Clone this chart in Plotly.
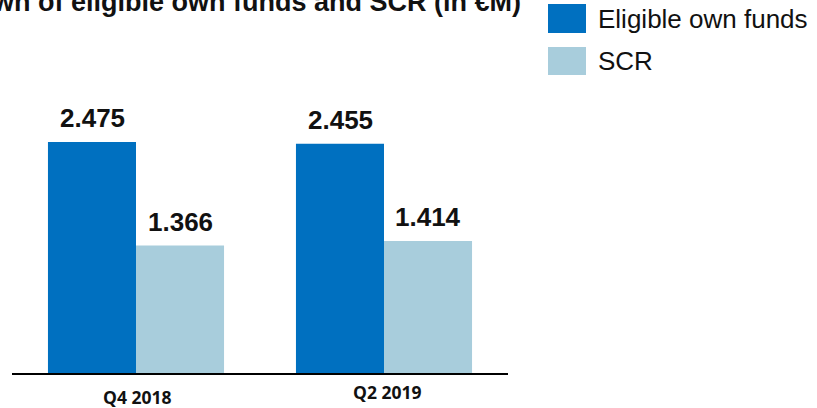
import plotly.graph_objects as go

# Data (values in €M)
categories = ["Q4 2018", "Q2 2019"]
eligible_own_funds = [2475, 2455]
scr = [1366, 1414]
series_names = ["Eligible own funds", "SCR"]
title_text = "Breakdown of eligible own funds and SCR (in €M)"

BLUE = "#0070C0"
LIGHT = "#A8CDDC"

W, H = 817, 408
M_L, M_R, M_T, M_B = 12, 309, 93, 35
PW, PH = W - M_L - M_R, H - M_T - M_B


def px_x(p):
    return (p - M_L) / PW


def px_y(p):
    return (H - M_B - p) / PH


def fmt(v):
    return f"{v:,}".replace(",", ".")


fig = go.Figure()
fig.add_trace(go.Bar(x=categories, y=eligible_own_funds, name=series_names[0],
                     marker=dict(color=BLUE, line=dict(width=0))))
fig.add_trace(go.Bar(x=categories, y=scr, name=series_names[1],
                     marker=dict(color=LIGHT, line=dict(width=0))))

annotations = []
# Value labels above each bar
for vals, dx in ((eligible_own_funds, -44), (scr, 44)):
    for c, v in zip(categories, vals):
        annotations.append(dict(
            x=c, y=v, xref="x", yref="y", text=fmt(v), showarrow=False,
            xanchor="center", yanchor="bottom", xshift=dx, yshift=7,
            font=dict(family="Liberation Sans, Arial", size=26, color="#111111", weight="bold")))

# Category labels under the axis
for c, ys, xs in zip(categories, [-24, -19], [1, 3]):
    annotations.append(dict(
        x=c, y=0, xref="x", yref="paper", text=c, showarrow=False,
        xanchor="center", yanchor="middle", yshift=ys, xshift=xs,
        font=dict(family="Open Sans", size=17.5, color="#111111", weight="bold")))

# Title
annotations.append(dict(
    x=px_x(523), y=1, xref="paper", yref="paper", text=title_text, showarrow=False,
    xanchor="right", yanchor="bottom", yshift=74,
    font=dict(family="Liberation Sans, Arial", size=27, color="#111111", weight="bold")))

# Legend
shapes = []
for i, (name, col) in enumerate(zip(series_names, [BLUE, LIGHT])):
    top, bot = [(4, 33), (47, 75)][i]
    shapes.append(dict(type="rect", xref="paper", yref="paper",
                       x0=px_x(548), x1=px_x(586), y0=px_y(bot), y1=px_y(top),
                       fillcolor=col, line=dict(width=0)))
    annotations.append(dict(
        x=px_x(596), y=px_y((top + bot) / 2), xref="paper", yref="paper",
        text=name, showarrow=False, xanchor="left", yanchor="middle",
        font=dict(family="Liberation Sans, Arial", size=26, color="#111111")))

fig.update_layout(
    width=W, height=H,
    margin=dict(l=M_L, r=M_R, t=M_T, b=M_B, autoexpand=False),
    barmode="group", bargap=0.29, bargroupgap=0,
    showlegend=False,
    plot_bgcolor="white", paper_bgcolor="white",
    xaxis=dict(showline=True, linecolor="black", linewidth=2, showticklabels=False,
               ticks="", showgrid=False, zeroline=False),
    yaxis=dict(range=[0, 3000], visible=False, showgrid=False, zeroline=False),
    annotations=annotations, shapes=shapes,
)

fig.write_html("out.html")
